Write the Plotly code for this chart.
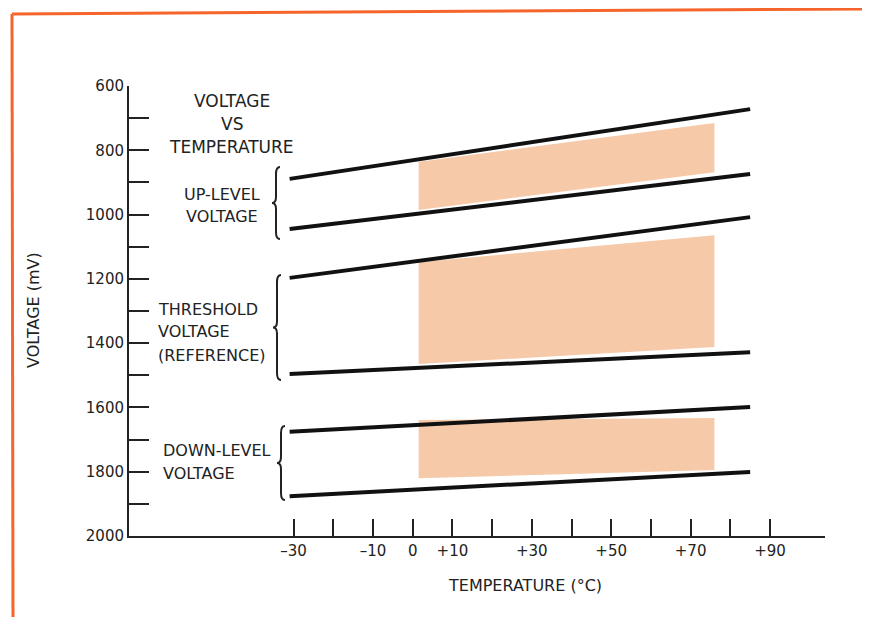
import plotly.graph_objects as go

# temperature span of the straight voltage lines (deg C)
line_temps = [-31, 85]
# each line: voltage (mV) at left end, right end
line_1 = [889, 672]
line_2 = [1045, 874]
line_3 = [1197, 1008]
line_4 = [1496, 1428]
line_5 = [1676, 1599]
line_6 = [1876, 1801]

# shaded bands (deg C span, top edge mV, bottom edge mV)
band_temps = [1.5, 76]
band_up_top = [836, 715]
band_up_bot = [986, 868]
band_thr_top = [1148, 1064]
band_thr_bot = [1465, 1412]
band_down_top = [1639, 1633]
band_down_bot = [1820, 1795]

x_ticks = [-30, -20, -10, 0, 10, 20, 30, 40, 50, 60, 70, 80, 90]
x_tick_text = ["–30", "", "–10", "0", "+10", "", "+30", "", "+50", "", "+70", "", "+90"]
y_ticks = list(range(600, 2001, 100))
y_tick_text = [str(v) if v % 200 == 0 else "" for v in y_ticks]

FONT = "DejaVu Sans"
INK = "#222222"
PEACH = "#f6caa9"

# plot area in screen pixels; page body adds an 8px margin
L, R, T, B = 129, 825, 86, 536
PAD = 8
W, H = 870 - PAD, 617 - PAD


def px(x):
    return (x - L) / (R - L)


def py(y):
    return (B - y) / (B - T)


fig = go.Figure()

for top, bot in [(band_up_top, band_up_bot), (band_thr_top, band_thr_bot),
                 (band_down_top, band_down_bot)]:
    fig.add_trace(go.Scatter(
        x=[band_temps[0], band_temps[1], band_temps[1], band_temps[0]],
        y=[top[0], top[1], bot[1], bot[0]],
        fill="toself", fillcolor=PEACH, mode="none",
        hoverinfo="skip"
    ))

for ln in [line_1, line_2, line_3, line_4, line_5, line_6]:
    fig.add_trace(go.Scatter(
        x=line_temps, y=ln, mode="lines",
        line=dict(color="#111111", width=4)
    ))

ann = []


def label(text, x, y, anchor="center", size=16):
    ann.append(dict(text=text, x=px(x), y=py(y), xref="paper", yref="paper",
                    xanchor=anchor, yanchor="middle", showarrow=False,
                    font=dict(family=FONT, size=size, color=INK)))


label("VOLTAGE", 232, 101, size=17)
label("VS", 232, 124, size=17)
label("TEMPERATURE", 231, 147, size=17)
label("UP-LEVEL", 222, 194)
label("VOLTAGE", 222, 216)
label("THRESHOLD", 156, 309, "left")
label("VOLTAGE", 156, 331, "left")
label("(REFERENCE)", 156, 355, "left")
label("DOWN-LEVEL", 161, 450, "left")
label("VOLTAGE", 161, 473, "left")
label("TEMPERATURE (°C)", 525, 585, size=16)
ann.append(dict(text="VOLTAGE (mV)", x=px(33), y=py(310), xref="paper", yref="paper",
                textangle=-90, showarrow=False, xanchor="center", yanchor="middle",
                font=dict(family=FONT, size=16, color=INK)))


def brace(xc, top, bot, w=4):
    mid = (top + bot) / 2
    pts = [("M", xc + w, top), ("Q", xc, top), ("", xc, top + 7),
           ("L", xc, mid - 6), ("Q", xc, mid), ("", xc - w, mid),
           ("Q", xc, mid), ("", xc, mid + 6),
           ("L", xc, bot - 7), ("Q", xc, bot), ("", xc + w, bot)]
    d = " ".join(f"{c} {px(x):.5f},{py(y):.5f}" if c else f"{px(x):.5f},{py(y):.5f}"
                 for c, x, y in pts)
    return dict(type="path", path=d, xref="paper", yref="paper",
                line=dict(color=INK, width=2))


shapes = [brace(276, 167, 239), brace(277, 275, 380), brace(281, 426, 500)]

# orange frame of the scanned page
shapes += [
    dict(type="line", xref="paper", yref="paper", x0=px(12), y0=py(14), x1=px(868), y1=py(9),
         line=dict(color="#f5642a", width=3)),
    dict(type="line", xref="paper", yref="paper", x0=px(12), y0=py(14), x1=px(13), y1=py(620),
         line=dict(color="#f5642a", width=3)),
    dict(type="line", xref="paper", yref="paper", x0=px(868), y0=py(9), x1=px(868), y1=py(620),
         line=dict(color="#f7a07a", width=2)),
]

fig.update_layout(
    width=W, height=H,
    margin=dict(l=L - PAD, r=870 - R, t=T - PAD, b=617 - B),
    paper_bgcolor="white", plot_bgcolor="white",
    showlegend=False,
    font=dict(family=FONT, size=15, color=INK),
    xaxis=dict(
        range=[(L - 412.7) / 3.97, (R - 412.7) / 3.97],
        tickvals=x_ticks, ticktext=x_tick_text,
        ticks="inside", ticklen=17, tickwidth=1.5, tickcolor=INK,
        showline=True, linecolor=INK, linewidth=2,
        showgrid=False, zeroline=False,
        tickfont=dict(family=FONT, size=15, color=INK)
    ),
    yaxis=dict(
        range=[2000, 600],
        tickvals=y_ticks, ticktext=y_tick_text,
        ticks="inside", ticklen=20, tickwidth=1.5, tickcolor=INK,
        showline=True, linecolor=INK, linewidth=2,
        showgrid=False, zeroline=False,
        tickfont=dict(family=FONT, size=15, color=INK)
    ),
    annotations=ann,
    shapes=shapes
)

fig.write_html("out.html")
